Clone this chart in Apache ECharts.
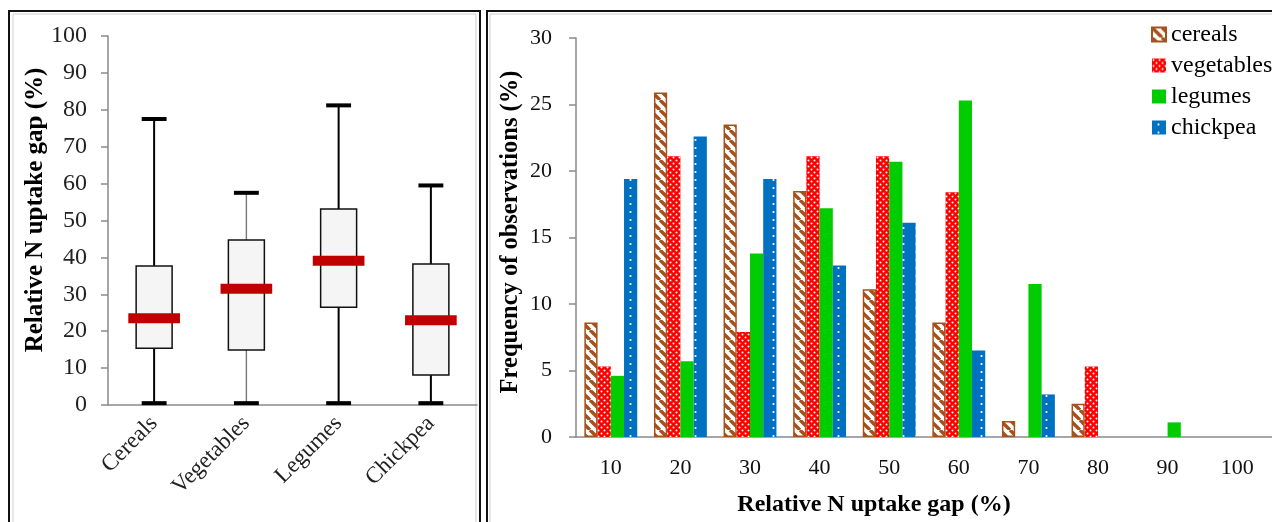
<!DOCTYPE html>
<html><head><meta charset="utf-8">
<script src="https://cdn.jsdelivr.net/npm/echarts@6/dist/echarts.min.js"></script>
<style>html,body{margin:0;padding:0;background:#fff}#c{width:1272px;height:522px}</style>
</head><body><div id="c"></div>
<script>
// ---- Left panel: box plot ----
const boxCategories = ['Cereals', 'Vegetables', 'Legumes', 'Chickpea'];
const boxMin    = [0.5, 0.5, 0.5, 0.5];
const boxQ1     = [15.4, 14.9, 26.5, 8.1];
const boxMedian = [23.5, 31.5, 39.1, 23.0];
const boxQ3     = [37.7, 44.7, 53.1, 38.2];
const boxMax    = [77.5, 57.5, 81.2, 59.5];

// ---- Right panel: frequency histogram ----
const gapCategories = ['10', '20', '30', '40', '50', '60', '70', '80', '90', '100'];
const cereals    = [8.6, 25.9, 23.5, 18.5, 11.1, 8.6, 1.2, 2.5, 0, 0];
const vegetables = [5.3, 21.1, 7.9, 21.1, 21.1, 18.4, 0, 5.3, 0, 0];
const legumes    = [4.6, 5.7, 13.8, 17.2, 20.7, 25.3, 11.5, 0, 1.1, 0];
const chickpea   = [19.4, 22.6, 19.4, 12.9, 16.1, 6.5, 3.2, 0, 0, 0];

const FONT = "'Liberation Serif', 'DejaVu Serif', serif";

function makePattern(kind) {
  const c = document.createElement('canvas');
  const ctx = c.getContext('2d');
  if (kind === 'stripe') {
    const s = 10; c.width = s; c.height = s;
    ctx.fillStyle = '#ffffff'; ctx.fillRect(0, 0, s, s);
    ctx.strokeStyle = '#A5511C'; ctx.lineWidth = 3.4;
    for (const k of [-s, 0, s]) { ctx.beginPath(); ctx.moveTo(k, 0); ctx.lineTo(k + s, s); ctx.stroke(); }
  } else if (kind === 'redDots') {
    const s = 6; c.width = s; c.height = s;
    ctx.fillStyle = '#FF0000'; ctx.fillRect(0, 0, s, s);
    ctx.fillStyle = '#ffffff';
    ctx.beginPath(); ctx.arc(1.5, 1.5, 1.0, 0, Math.PI * 2); ctx.fill();
    ctx.beginPath(); ctx.arc(4.5, 4.5, 1.0, 0, Math.PI * 2); ctx.fill();
  } else if (kind === 'blueDots') {
    c.width = 13; c.height = 8;
    ctx.fillStyle = '#0070C0'; ctx.fillRect(0, 0, 13, 8);
    ctx.fillStyle = '#ffffff';
    ctx.beginPath(); ctx.arc(6.5, 4, 1.1, 0, Math.PI * 2); ctx.fill();
  }
  return { image: c, repeat: 'repeat' };
}

const chart = echarts.init(document.getElementById('c'), null, { renderer: 'canvas' });

const axisGray = '#8a8a8a';
const nz = arr => arr.map(v => (v === 0 ? null : v));

const whiskerColors = ['#000', '#777', '#000', '#000'];

const option = {
  animation: false,
  backgroundColor: '#ffffff',
  textStyle: { fontFamily: FONT },
  grid: [
    { left: 108, top: 36, width: 369, height: 369 },
    { left: 576, top: 38, width: 704, height: 399 }
  ],
  xAxis: [
    {
      gridIndex: 0, type: 'category', data: boxCategories, boundaryGap: true,
      axisLine: { lineStyle: { color: axisGray, width: 1.5 } },
      axisTick: { length: 8, lineStyle: { color: axisGray, width: 1.5 } },
      axisLabel: { rotate: 45, margin: 15, fontSize: 23, color: '#222', fontFamily: FONT }
    },
    {
      gridIndex: 1, type: 'category', data: gapCategories, boundaryGap: true,
      axisLine: { lineStyle: { color: axisGray, width: 1.5 } },
      axisTick: { length: 8, lineStyle: { color: axisGray, width: 1.5 } },
      axisLabel: { margin: 20, fontSize: 22, color: '#111', fontFamily: FONT }
    }
  ],
  yAxis: [
    {
      gridIndex: 0, type: 'value', min: 0, max: 100, interval: 10,
      axisLine: { show: true, lineStyle: { color: axisGray, width: 1.5 } },
      axisTick: { show: true, length: 7, lineStyle: { color: axisGray, width: 1.5 } },
      splitLine: { show: false },
      axisLabel: { margin: 21, fontSize: 24, color: '#222', fontFamily: FONT }
    },
    {
      gridIndex: 1, type: 'value', min: 0, max: 30, interval: 5,
      axisLine: { show: true, lineStyle: { color: axisGray, width: 1.5 } },
      axisTick: { show: true, length: 7, lineStyle: { color: axisGray, width: 1.5 } },
      splitLine: { show: false },
      axisLabel: { margin: 24, fontSize: 22, color: '#111', fontFamily: FONT }
    }
  ],
  legend: {
    orient: 'vertical', left: 1146, top: 17,
    itemWidth: 14, itemHeight: 14, itemGap: 6,
    icon: 'rect',
    textStyle: { fontFamily: FONT, fontSize: 24, color: '#000', lineHeight: 25 },
    data: ['cereals', 'vegetables', 'legumes', 'chickpea']
  },
  graphic: [
    { type: 'rect', shape: { x: 9, y: 11, width: 471, height: 530 }, style: { fill: 'none', stroke: '#111', lineWidth: 2 }, silent: true },
    { type: 'rect', shape: { x: 13, y: 14, width: 463, height: 530 }, style: { fill: 'none', stroke: '#cfcfcf', lineWidth: 1 }, silent: true },
    { type: 'rect', shape: { x: 487, y: 11, width: 800, height: 530 }, style: { fill: 'none', stroke: '#111', lineWidth: 2 }, silent: true },
    { type: 'rect', shape: { x: 490, y: 14, width: 800, height: 530 }, style: { fill: 'none', stroke: '#cfcfcf', lineWidth: 1 }, silent: true },
    { type: 'text', x: 36, y: 210, rotation: Math.PI / 2,
      style: { text: 'Relative N uptake gap (%)', font: "bold 25px 'Liberation Serif', serif", fill: '#000', textAlign: 'center', textVerticalAlign: 'middle', verticalAlign: 'middle' } },
    { type: 'text', x: 511, y: 232, rotation: Math.PI / 2,
      style: { text: 'Frequency of observations (%)', font: "bold 24.5px 'Liberation Serif', serif", fill: '#000', textAlign: 'center', textVerticalAlign: 'middle', verticalAlign: 'middle' } },
    { type: 'text', x: 874, y: 505,
      style: { text: 'Relative N uptake gap (%)', font: "bold 24px 'Liberation Serif', serif", fill: '#000', textAlign: 'center', textVerticalAlign: 'middle', verticalAlign: 'middle' } }
  ],
  series: [
    {
      type: 'custom', name: 'box', xAxisIndex: 0, yAxisIndex: 0,
      encode: { x: 0, y: [1, 2, 3, 4, 5] },
      data: boxCategories.map((c, i) => [i, boxMin[i], boxQ1[i], boxMedian[i], boxQ3[i], boxMax[i]]),
      renderItem: function (params, api) {
        const i = api.value(0);
        const bw = api.size([1, 0])[0];
        const x = api.coord([i, 0])[0];
        const yMin = api.coord([i, api.value(1)])[1];
        const yQ1 = api.coord([i, api.value(2)])[1];
        const yMed = api.coord([i, api.value(3)])[1];
        const yQ3 = api.coord([i, api.value(4)])[1];
        const yMax = api.coord([i, api.value(5)])[1];
        const boxW = bw * 0.39, capW = bw * 0.27, medW = bw * 0.56;
        const wc = whiskerColors[i];
        const wl = wc === '#000' ? 2 : 1.4;
        return {
          type: 'group',
          children: [
            { type: 'line', shape: { x1: x, y1: yMax, x2: x, y2: yQ3 }, style: { stroke: wc, lineWidth: wl } },
            { type: 'line', shape: { x1: x, y1: yQ1, x2: x, y2: yMin }, style: { stroke: wc, lineWidth: wl } },
            { type: 'rect', shape: { x: x - boxW / 2, y: yQ3, width: boxW, height: yQ1 - yQ3 }, style: { fill: '#f5f5f5', stroke: '#111', lineWidth: 1.5 } },
            { type: 'rect', shape: { x: x - capW / 2, y: yMax - 2, width: capW, height: 4 }, style: { fill: '#000' } },
            { type: 'rect', shape: { x: x - capW / 2, y: yMin - 2, width: capW, height: 4 }, style: { fill: '#000' } },
            { type: 'rect', shape: { x: x - medW / 2, y: yMed - 5, width: medW, height: 10 }, style: { fill: '#C00000' } }
          ]
        };
      }
    },
    {
      type: 'bar', name: 'cereals', xAxisIndex: 1, yAxisIndex: 1, data: nz(cereals),
      barGap: '0%', barCategoryGap: '24%',
      itemStyle: { color: makePattern('stripe'), borderColor: '#A5511C', borderWidth: 1.5 }
    },
    {
      type: 'bar', name: 'vegetables', xAxisIndex: 1, yAxisIndex: 1, data: nz(vegetables),
      barGap: '0%', barCategoryGap: '24%',
      itemStyle: { color: makePattern('redDots') }
    },
    {
      type: 'bar', name: 'legumes', xAxisIndex: 1, yAxisIndex: 1, data: nz(legumes),
      barGap: '0%', barCategoryGap: '24%',
      itemStyle: { color: '#00CC00' }
    },
    {
      type: 'bar', name: 'chickpea', xAxisIndex: 1, yAxisIndex: 1, data: nz(chickpea),
      barGap: '0%', barCategoryGap: '24%',
      itemStyle: { color: makePattern('blueDots') }
    }
  ]
};
chart.setOption(option);
</script>
</body></html>
